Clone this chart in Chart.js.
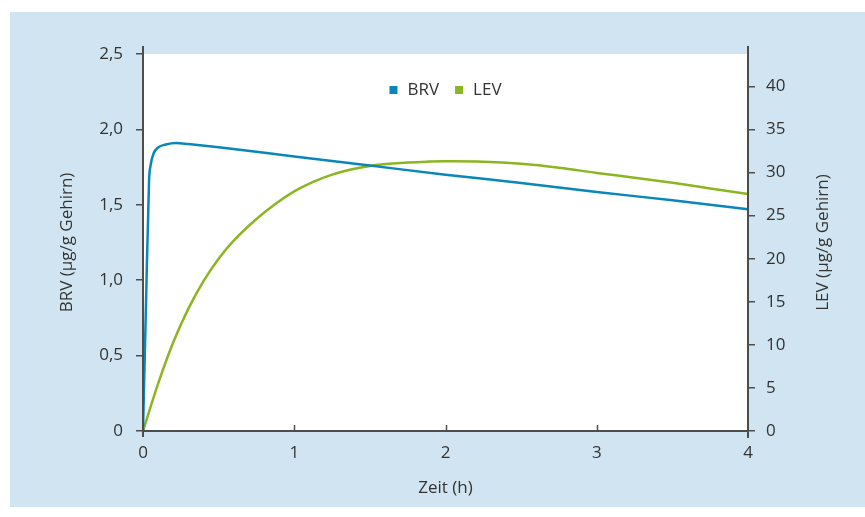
<!DOCTYPE html>
<html>
<head>
<meta charset="utf-8">
<script src="https://cdn.jsdelivr.net/npm/chart.js@4.4.1/dist/chart.umd.min.js"></script>
<style>
  html, body { margin: 0; padding: 0; background: #fff; }
  #chart { display: block; }
</style>
</head>
<body>
<canvas id="chart" width="865" height="517"></canvas>
<script>
// data
var brvTime   = [0, 0.02, 0.04, 0.05, 0.07, 0.1, 0.15, 0.22, 0.3, 0.5, 1, 1.5, 2, 2.5, 3, 3.5, 4];
var brvValues = [0, 0.85, 1.66, 1.76, 1.84, 1.88, 1.90, 1.91, 1.903, 1.882, 1.82, 1.76, 1.70, 1.645, 1.585, 1.53, 1.47];

var levTime   = [0, 0.1, 0.2, 0.3, 0.4, 0.5, 0.6, 0.75, 0.875, 1, 1.125, 1.25, 1.375, 1.5, 1.625, 1.75, 1.875, 2, 2.25, 2.5, 2.75, 3, 3.25, 3.5, 3.75, 4];
var levValues = [0, 5.5, 10.3, 14.2, 17.4, 20.0, 22.1, 24.6, 26.35, 27.8, 28.9, 29.75, 30.35, 30.75, 31.0, 31.15, 31.25, 31.3, 31.25, 31.0, 30.55, 29.95, 29.4, 28.8, 28.15, 27.5];

var xTickLabels     = ['0', '1', '2', '3', '4'];
var leftTickLabels  = ['0', '0,5', '1,0', '1,5', '2,0', '2,5'];
var rightTickLabels = ['0', '5', '10', '15', '20', '25', '30', '35', '40'];

var BLUE = '#0a87ba';
var GREEN = '#8cb522';
var AXIS = '#4d4d4d';
var TEXT = '#333333';
var FONT = '"Open Sans", "Noto Sans", sans-serif';

function toPoints(xs, ys) {
  return xs.map(function (x, i) { return { x: x, y: ys[i] }; });
}

// light blue frame + white plot area
var backdrop = {
  id: 'backdrop',
  beforeDraw: function (chart) {
    var ctx = chart.ctx, a = chart.chartArea;
    ctx.save();
    ctx.fillStyle = '#d0e5f1';
    ctx.fillRect(10, 12, chart.width - 10, 495);
    ctx.fillStyle = '#ffffff';
    ctx.fillRect(a.left, a.top, a.right - a.left, a.bottom - a.top);
    ctx.restore();
  }
};

// axis lines, inward x ticks, right title (reads bottom-up) and the legend in the plot
var axesAndLegend = {
  id: 'axesAndLegend',
  afterDraw: function (chart) {
    var ctx = chart.ctx, a = chart.chartArea, x = chart.scales.x;
    ctx.save();
    ctx.strokeStyle = AXIS;
    ctx.lineWidth = 2;
    ctx.beginPath();
    ctx.moveTo(a.left, a.top - 8); ctx.lineTo(a.left, a.bottom + 6);
    ctx.moveTo(a.right, a.top - 8); ctx.lineTo(a.right, a.bottom + 7);
    ctx.moveTo(a.left, a.bottom); ctx.lineTo(a.right, a.bottom);
    ctx.stroke();
    ctx.lineWidth = 1.5;
    ctx.beginPath();
    for (var v = 1; v < xTickLabels.length - 1; v++) {
      var px = Math.round(x.getPixelForValue(v)) + 0.5;
      ctx.moveTo(px, a.bottom); ctx.lineTo(px, a.bottom - 6);
    }
    ctx.stroke();

    ctx.font = '17px ' + FONT;
    ctx.fillStyle = TEXT;

    // right axis title
    ctx.save();
    ctx.translate(823, (a.top + a.bottom) / 2);
    ctx.rotate(-Math.PI / 2);
    ctx.textAlign = 'center';
    ctx.textBaseline = 'middle';
    ctx.fillText('LEV (µg/g Gehirn)', 0, 0);
    ctx.restore();

    // legend
    ctx.textBaseline = 'middle';
    var ds = chart.data.datasets, box = 8, gap = 10, between = 16, total = 0;
    ds.forEach(function (d, i) {
      total += box + gap + ctx.measureText(d.label).width + (i ? between : 0);
    });
    var lx = (a.left + a.right) / 2 - total / 2, ly = a.top + 36;
    ds.forEach(function (d) {
      ctx.fillStyle = d.borderColor;
      ctx.fillRect(lx, ly - box / 2, box, box);
      lx += box + gap;
      ctx.fillStyle = TEXT;
      ctx.fillText(d.label, lx, ly);
      lx += ctx.measureText(d.label).width + between;
    });
    ctx.restore();
  }
};

new Chart(document.getElementById('chart'), {
  type: 'line',
  data: {
    datasets: [{
      label: 'BRV',
      data: toPoints(brvTime, brvValues),
      borderColor: BLUE,
      backgroundColor: BLUE,
      borderWidth: 2.5,
      pointRadius: 0,
      cubicInterpolationMode: 'monotone',
      yAxisID: 'y'
    }, {
      label: 'LEV',
      data: toPoints(levTime, levValues),
      borderColor: GREEN,
      backgroundColor: GREEN,
      borderWidth: 2.5,
      pointRadius: 0,
      tension: 0.4,
      yAxisID: 'y2'
    }]
  },
  options: {
    responsive: false,
    devicePixelRatio: 1,
    animation: false,
    layout: { padding: { top: 54, left: 0, right: 0, bottom: 0 } },
    plugins: { legend: { display: false }, tooltip: { enabled: false } },
    scales: {
      x: {
        type: 'linear',
        min: 0, max: 4,
        afterFit: function (s) { s.height = 86; },
        afterBuildTicks: function (s) { s.ticks = xTickLabels.map(function (t, i) { return { value: i }; }); },
        ticks: {
          color: TEXT, font: { family: FONT, size: 17 }, padding: 12,
          callback: function (v, i) { return xTickLabels[i]; }
        },
        grid: { drawOnChartArea: false, drawTicks: false },
        border: { display: false },
        title: {
          display: true, text: 'Zeit (h)', color: TEXT,
          font: { family: FONT, size: 17 }, padding: { top: 0, bottom: 19 }
        }
      },
      y: {
        position: 'left',
        min: 0, max: 2.5,
        afterFit: function (s) { s.width = 143; },
        afterBuildTicks: function (s) { s.ticks = leftTickLabels.map(function (t, i) { return { value: i * 0.5 }; }); },
        ticks: {
          color: TEXT, font: { family: FONT, size: 17 }, padding: 13,
          callback: function (v, i) { return leftTickLabels[i]; }
        },
        grid: { drawOnChartArea: false, drawTicks: true, tickLength: 7, color: AXIS, lineWidth: 1.5 },
        border: { display: false },
        title: {
          display: true, text: 'BRV (µg/g Gehirn)', color: TEXT,
          font: { family: FONT, size: 17 }, padding: { top: 57, bottom: 0 }
        }
      },
      y2: {
        position: 'right',
        min: 0, max: 43.75,
        afterFit: function (s) { s.width = 117; },
        afterBuildTicks: function (s) { s.ticks = rightTickLabels.map(function (t, i) { return { value: i * 5 }; }); },
        ticks: {
          color: TEXT, font: { family: FONT, size: 17 }, padding: 11,
          callback: function (v, i) { return rightTickLabels[i]; }
        },
        grid: { drawOnChartArea: false, drawTicks: true, tickLength: 7, color: AXIS, lineWidth: 1.5 },
        border: { display: false },
        title: { display: false }
      }
    }
  },
  plugins: [backdrop, axesAndLegend]
});
</script>
</body>
</html>
